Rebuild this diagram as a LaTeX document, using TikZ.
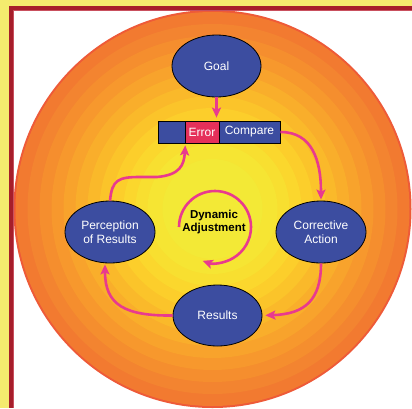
\documentclass[tikz,border=0pt]{standalone}
\usepackage{fontspec}
\setmainfont{Liberation Sans}
\usetikzlibrary{shapes.geometric,arrows.meta}
\definecolor{bgyellow}{HTML}{F4EB6E}
\definecolor{framered}{HTML}{A61E2A}
\definecolor{framelight}{HTML}{C9505E}
\definecolor{nodeblue}{HTML}{3C4DA0}
\definecolor{errred}{HTML}{E5305A}
\definecolor{linkpink}{HTML}{E93A8E}
\definecolor{ringedge}{HTML}{EE5A38}
\begin{document}
\begin{tikzpicture}[x=1pt,y=-1pt,
  stage/.style={ellipse, draw=black, line width=0.8pt, fill=nodeblue, text=white,
    minimum width=89pt, minimum height=62pt, inner sep=0pt, align=center,
    font=\fontsize{12}{13.5}\selectfont},
  cell/.style={rectangle, draw=black, line width=0.8pt, minimum height=22pt,
    inner sep=0pt, text=white, font=\fontsize{12}{13.5}\selectfont},
  link/.style={draw=linkpink, line width=2.6pt,
    -{Stealth[length=10pt,width=9pt,inset=2pt]}},
]
\useasboundingbox (0,0) rectangle (412,408);
\fill[bgyellow] (0,0) rectangle (412,408);
\fill[framered] (9,6) rectangle (412,408);
\fill[framelight] (13,10) rectangle (412,408);
\fill[white] (14,11) rectangle (412,408);
\begin{scope}
  \clip (14,11) rectangle (412,408);
  \fill[ringedge] (212.5,209) circle[radius=199];
  \foreach \r/\c in {197/F27A30, 185/F38430, 173/F58E2E, 161/F7982D, 149/F8A32C,
      137/F9AE2B, 125/FAB92A, 113/FBC42A, 101/FCCE2B, 89/FBD72D, 77/F8DF30,
      65/F6E533, 50/F3E936} {
    \definecolor{ringc}{HTML}{\c}
    \fill[ringc] (212.5,209) circle[radius=\r];
  }
\end{scope}

\node[stage] (goal) at (216.5,66) {Goal};
\node[stage, minimum width=90pt] (perc) at (110,232) {Perception\\of Results};
\node[stage, minimum width=90pt] (corr) at (321,232) {Corrective\\Action};
\node[stage, minimum height=61pt] (res) at (217.5,315.5) {Results};
\node[cell, fill=nodeblue, minimum width=27pt] (blank) at (171.5,132) {};
\node[cell, fill=errred, minimum width=34pt] (err) at (202,132) {Error};
\node[cell, fill=nodeblue, minimum width=61pt] (comp) at (249.5,132) {Compare};
\node[align=center, font=\bfseries\fontsize{11.5}{13.5}\selectfont] (dyn) at (214,222) {Dynamic\\Adjustment};

\draw[link, shorten >=3pt] (goal.south) -- (goal.south |- err.north);
\draw[link, shorten >=1pt] (comp.east) .. controls (312,132) and (321,160) .. (corr.north);
\draw[link, shorten >=3pt] (corr.south) .. controls (321,300) and (305,314) .. (res.east);
\draw[link, shorten >=1pt] (res.west) .. controls (125,316) and (105,305) .. ([xshift=-5pt]perc.south);
\draw[link, shorten >=2pt] (perc.north) .. controls (112,180) and (118,177) .. (140,177)
  -- (157,177) .. controls (180,175) and (184,165) .. (blank.south east);
\coordinate (dstart) at (179,227);
\draw[link] (dstart) arc[start angle=180, end angle=470, radius=36];
\end{tikzpicture}
\end{document}
